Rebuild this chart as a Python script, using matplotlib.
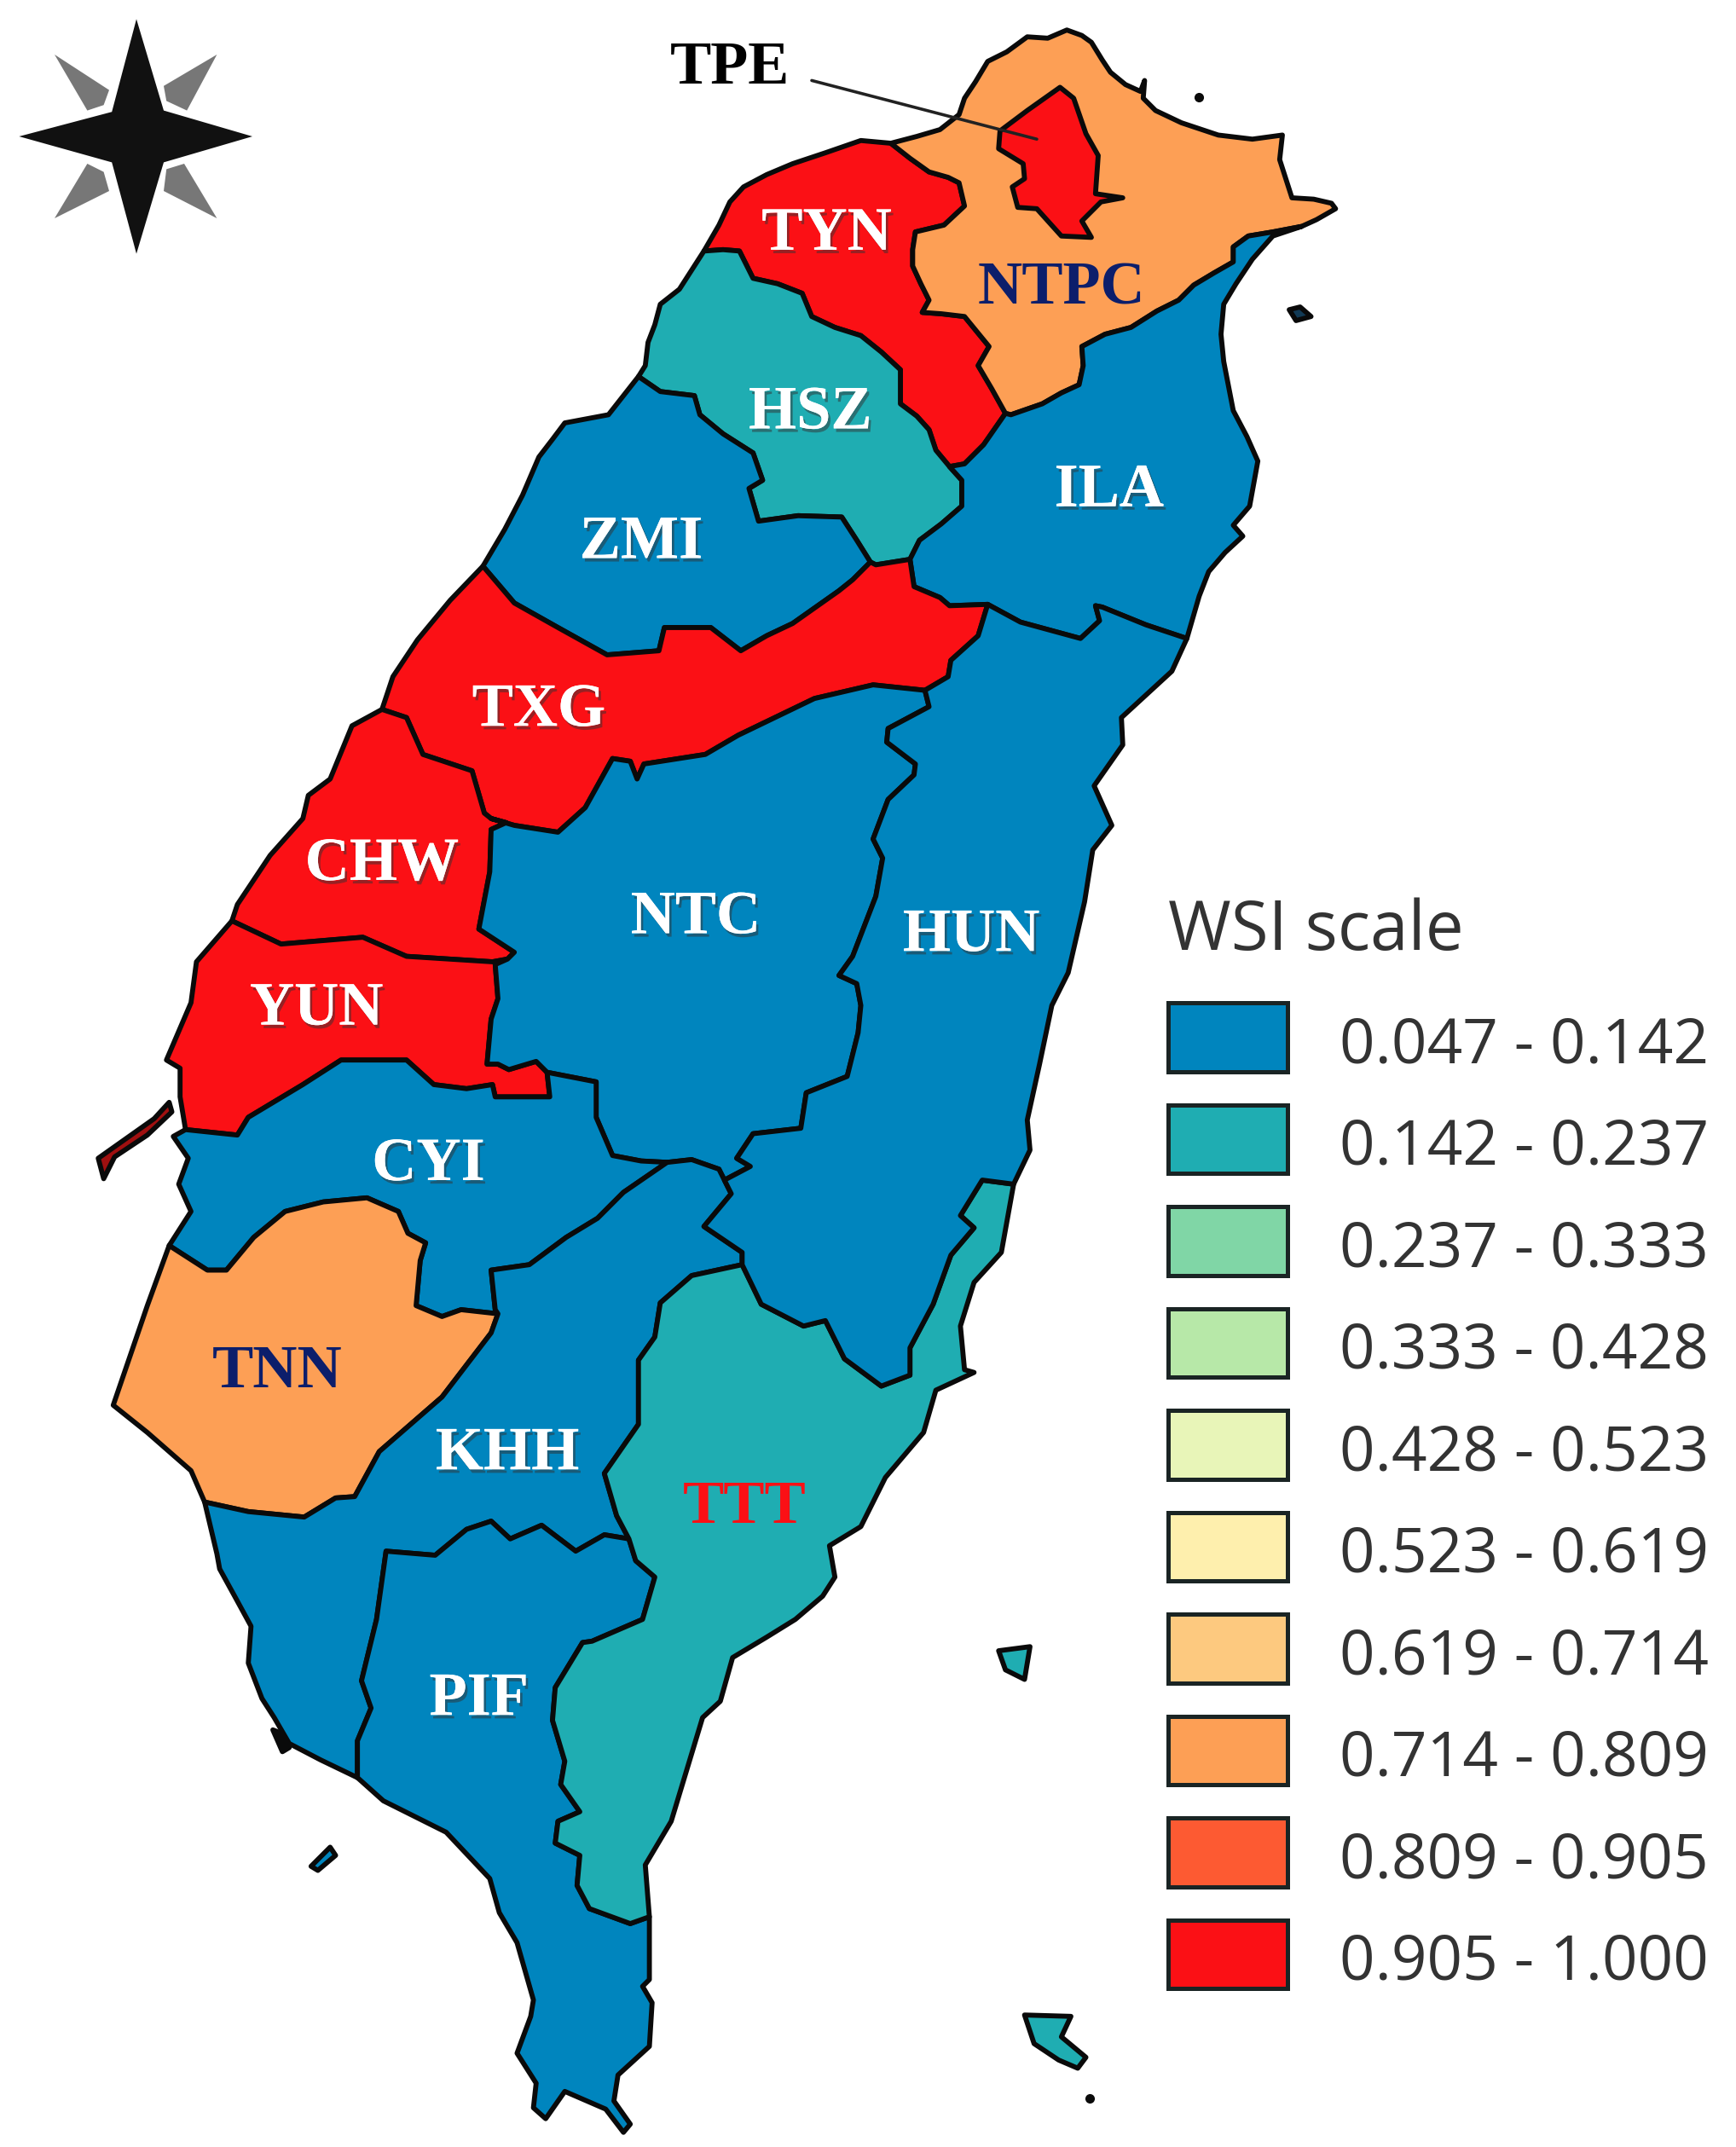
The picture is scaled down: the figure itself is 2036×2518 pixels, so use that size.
import matplotlib
matplotlib.use("Agg")
import matplotlib.pyplot as plt
import matplotlib.patheffects as pe
from matplotlib.patches import Polygon, Rectangle

# legend
legend_title = "WSI scale"
bin_labels = ["0.047 - 0.142", "0.142 - 0.237", "0.237 - 0.333", "0.333 - 0.428",
              "0.428 - 0.523", "0.523 - 0.619", "0.619 - 0.714", "0.714 - 0.809",
              "0.809 - 0.905", "0.905 - 1.000"]
bin_colors = ["#0085BE", "#1FADB2", "#80D6A6", "#B7E8A8", "#E8F5B8",
              "#FEEFAD", "#FDC97F", "#FD9F55", "#FD5A32", "#FB1015"]

# county borders, traced in reference coordinates (1273 x 1574)
tyn_coast = [(516, 184), (527, 165), (535, 148), (545, 137), (562, 128), (581, 120), (605, 112), (631, 103), (653, 105)]
ntpc_coast = [(653, 105), (672, 100), (689, 95), (703, 84), (707, 72), (715, 60), (724, 45), (738, 38), (753, 27),
              (768, 28), (782, 22), (793, 26), (800, 31), (808, 44), (814, 53), (825, 62), (836, 67), (839, 59),
              (838, 72), (847, 81), (866, 90), (893, 99), (918, 102), (940, 99), (938, 117), (947, 145), (963, 146),
              (976, 149), (979, 153), (965, 161), (954, 166)]
ntpc_ila = [(954, 166), (933, 170), (915, 173), (904, 181), (904, 192), (890, 200), (875, 209), (864, 220), (848, 228),
            (829, 240), (810, 245), (793, 254), (794, 268), (791, 282), (778, 288), (764, 296), (741, 304), (737, 303)]
tyn_ntpc = [(653, 105), (667, 116), (681, 126), (695, 130), (703, 134), (707, 151), (692, 165), (671, 170), (669, 183),
            (669, 195), (675, 208), (681, 220), (676, 229), (690, 230), (707, 232), (716, 243), (725, 254), (717, 268),
            (727, 285), (737, 303)]
tyn_ila = [(737, 303), (721, 326), (707, 340), (696, 342)]
tyn_hsz = [(516, 184), (530, 183), (542, 184), (552, 204), (570, 208), (588, 215), (595, 232), (612, 240), (631, 246),
           (646, 258), (660, 271), (660, 296), (672, 305), (681, 315), (686, 330), (696, 342)]
hsz_coast = [(516, 184), (507, 198), (498, 212), (484, 223), (480, 238), (475, 251), (473, 268), (468, 276)]
hsz_zmi = [(468, 276), (484, 287), (509, 290), (513, 304), (530, 318), (552, 332), (559, 352), (549, 358), (556, 382),
           (585, 378), (617, 379), (628, 396), (638, 412)]
hsz_ila = [(696, 342), (705, 352), (705, 371), (690, 384), (674, 396), (667, 410)]
hsz_txg = [(638, 412), (642, 414), (667, 410)]
ila_coast = [(954, 166), (933, 173), (918, 190), (906, 208), (897, 223), (895, 245), (897, 265), (904, 301), (914, 320),
             (922, 338), (916, 371), (904, 385), (911, 393), (898, 405), (886, 419), (879, 437), (870, 468)]
ila_hun = [(870, 468), (840, 458), (808, 445), (803, 444), (806, 455), (792, 468), (770, 462), (748, 456), (724, 443)]
ila_txg = [(667, 410), (670, 430), (689, 438), (696, 444), (724, 443)]
zmi_coast = [(468, 276), (457, 290), (446, 304), (414, 310), (405, 322), (395, 335), (383, 363), (370, 388), (354, 415)]
zmi_txg = [(354, 415), (377, 442), (409, 460), (445, 480), (483, 477), (487, 460), (521, 460), (543, 477), (562, 466),
           (581, 457), (615, 433), (625, 425), (638, 412)]
txg_coast = [(354, 415), (330, 440), (306, 469), (288, 496), (280, 520)]
txg_chw = [(280, 520), (298, 526), (310, 553), (346, 565), (355, 596), (360, 600)]
txg_ntc = [(360, 600), (377, 605), (409, 610), (429, 592), (449, 556), (462, 558), (467, 571), (472, 560), (517, 553),
           (541, 539), (597, 512), (640, 502), (678, 506)]
txg_hun = [(678, 506), (695, 496), (697, 484), (717, 466), (724, 443)]
chw_coast = [(280, 520), (258, 532), (242, 571), (226, 583), (222, 600), (198, 627), (174, 663), (170, 675)]
chw_yun = [(170, 675), (206, 692), (266, 687), (298, 701), (361, 705), (372, 703)]
chw_ntc = [(360, 600), (371, 603), (360, 608), (359, 639), (351, 681), (377, 698), (372, 703)]
yun_coast = [(170, 675), (144, 705), (140, 735), (122, 777), (132, 783), (132, 804), (136, 828)]
yun_ntc = [(372, 703), (363, 707), (365, 732), (360, 747), (357, 780), (365, 780), (373, 784), (393, 778), (401, 786)]
yun_cyi = [(136, 828), (174, 832), (182, 819), (222, 795), (250, 777), (298, 777), (318, 795), (342, 798), (361, 795),
           (363, 804), (403, 804), (401, 786)]
ntc_cyi = [(401, 786), (437, 793), (437, 819), (449, 847), (470, 851), (489, 852)]
ntc_khh = [(489, 852), (507, 850), (527, 857), (531, 865)]
ntc_hun = [(531, 865), (550, 855), (540, 849), (552, 831), (587, 827), (591, 801), (621, 789), (629, 757), (631, 737),
           (628, 721), (615, 715), (625, 701), (642, 657), (647, 629), (640, 615), (651, 586), (670, 568), (671, 560),
           (650, 544), (651, 534), (681, 518), (678, 506)]
cyi_khh = [(489, 852), (457, 874), (438, 893), (415, 907), (388, 927), (360, 931), (363, 960), (365, 963)]
cyi_tnn = [(365, 963), (338, 960), (324, 965), (305, 957), (308, 924), (312, 911), (299, 904), (292, 888), (269, 878),
           (237, 881), (209, 888), (186, 907), (166, 931), (152, 931), (124, 913)]
cyi_coast = [(136, 828), (127, 833), (138, 849), (131, 868), (140, 888), (124, 913)]
tnn_coast = [(124, 913), (108, 957), (83, 1030), (108, 1050), (140, 1078), (150, 1101)]
tnn_khh = [(150, 1101), (182, 1108), (223, 1112), (246, 1098), (260, 1097), (278, 1064), (324, 1024), (360, 977), (365, 963)]
khh_hun = [(531, 865), (536, 875), (516, 899), (544, 918), (544, 927)]
khh_ttt = [(544, 927), (507, 935), (484, 955), (480, 980), (468, 997), (468, 1044), (443, 1080), (452, 1111), (461, 1128)]
khh_pif = [(461, 1128), (443, 1125), (422, 1137), (397, 1118), (374, 1128), (360, 1115), (342, 1121), (319, 1140),
           (283, 1137), (276, 1187), (265, 1232), (272, 1252), (262, 1276), (262, 1303)]
khh_coast = [(150, 1101), (159, 1139), (161, 1150), (172, 1170), (184, 1192), (182, 1219), (192, 1245), (201, 1259),
             (212, 1278), (235, 1290), (262, 1303)]
pif_ttt = [(461, 1128), (466, 1144), (480, 1156), (471, 1187), (434, 1203), (427, 1204), (407, 1237), (405, 1261),
           (414, 1291), (411, 1308), (425, 1328), (409, 1335), (407, 1351), (425, 1360), (423, 1382), (432, 1399),
           (462, 1410), (476, 1405)]
pif_coast = [(262, 1303), (281, 1320), (327, 1343), (359, 1377), (366, 1402), (379, 1424), (391, 1466), (389, 1478),
             (379, 1505), (393, 1527), (391, 1545), (400, 1553), (414, 1533), (444, 1546), (457, 1563), (462, 1557),
             (450, 1540), (453, 1521), (476, 1500), (478, 1468), (471, 1456), (476, 1451), (476, 1405)]
hun_ttt = [(544, 927), (558, 956), (589, 972), (605, 968), (619, 996), (646, 1016), (667, 1008), (667, 988), (684, 956),
           (697, 920), (714, 900), (704, 891), (720, 865), (743, 868)]
hun_coast = [(870, 468), (859, 492), (822, 526), (823, 546), (802, 576), (815, 605), (801, 623), (795, 661), (783, 713),
             (771, 737), (762, 780), (753, 821), (755, 843), (743, 868)]
ttt_coast = [(743, 868), (734, 918), (714, 940), (704, 972), (707, 1004), (714, 1006), (686, 1019), (677, 1050), (649, 1083),
             (631, 1119), (608, 1133), (612, 1156), (603, 1170), (583, 1187), (562, 1200), (537, 1215), (528, 1247),
             (515, 1259), (492, 1335), (473, 1367), (476, 1405)]


def rev(seg):
    return seg[::-1]


# county name, colour bin, outline
counties = [
    ("TYN", 9, tyn_coast + tyn_ntpc + tyn_ila + rev(tyn_hsz)),
    ("NTPC", 7, ntpc_coast + ntpc_ila + rev(tyn_ntpc)),
    ("HSZ", 1, tyn_hsz + hsz_ila + rev(hsz_txg) + rev(hsz_zmi) + rev(hsz_coast)),
    ("ILA", 0, tyn_ila + hsz_ila + ila_txg + rev(ila_hun) + rev(ila_coast) + ntpc_ila),
    ("ZMI", 0, zmi_coast + zmi_txg + rev(hsz_zmi)),
    ("TXG", 9, txg_coast + txg_chw + txg_ntc + txg_hun + rev(ila_txg) + rev(hsz_txg) + rev(zmi_txg)),
    ("CHW", 9, chw_coast + chw_yun + rev(chw_ntc) + rev(txg_chw)),
    ("YUN", 9, yun_coast + yun_cyi + rev(yun_ntc) + rev(chw_yun)),
    ("NTC", 0, chw_ntc + yun_ntc + ntc_cyi + ntc_khh + ntc_hun + rev(txg_ntc)),
    ("CYI", 0, yun_cyi + ntc_cyi + cyi_khh + cyi_tnn + rev(cyi_coast)),
    ("TNN", 7, tnn_coast + tnn_khh + cyi_tnn),
    ("KHH", 0, ntc_khh + khh_hun + khh_ttt + khh_pif + rev(khh_coast) + tnn_khh + rev(cyi_khh)),
    ("PIF", 0, khh_pif + pif_coast + rev(pif_ttt)),
    ("TTT", 1, hun_ttt + ttt_coast + rev(pif_ttt) + rev(khh_ttt)),
    ("HUN", 0, hun_coast + rev(hun_ttt) + rev(khh_hun) + ntc_hun + txg_hun + rev(ila_hun)),
]

tpe_outline = [(777, 64), (787, 72), (796, 98), (805, 114), (803, 142), (823, 145), (807, 148), (793, 162), (800, 174),
               (778, 173), (760, 153), (746, 152), (742, 137), (751, 131), (750, 120), (732, 109), (733, 96), (753, 81)]

# (outline, fill)
islands = [
    ([(124, 808), (113, 820), (72, 849), (76, 864), (84, 848), (108, 832), (126, 815)], "#A01010"),
    ([(732, 1210), (755, 1207), (751, 1231), (737, 1224)], bin_colors[1]),
    ([(751, 1477), (785, 1478), (778, 1493), (796, 1508), (790, 1516), (776, 1510), (758, 1498)], bin_colors[1]),
    ([(242, 1354), (246, 1360), (233, 1371), (228, 1368)], bin_colors[0]),
    ([(945, 227), (953, 225), (961, 232), (950, 235)], "#123A55"),
    ([(200, 1268), (210, 1272), (212, 1281), (207, 1284)], "#0A0A0A"),
]
specks = [(879, 71), (799, 1538)]

# label text, centre x, baseline y, colour
labels = [
    ("TYN", 606, 183, "white"), ("NTPC", 778, 223, "#0C1E6B"), ("HSZ", 594, 314, "white"),
    ("ILA", 813, 371, "white"), ("ZMI", 470, 409, "white"), ("TXG", 395, 532, "white"),
    ("CHW", 280, 645, "white"), ("YUN", 232, 751, "white"), ("NTC", 510, 684, "white"),
    ("HUN", 712, 697, "white"), ("CYI", 314, 865, "white"), ("TNN", 203, 1017, "#0C1E6B"),
    ("KHH", 372, 1077, "white"), ("TTT", 546, 1116, "#FB1015"), ("PIF", 351, 1257, "white"),
    ("TPE", 535, 61, "black"),
]
tpe_leader_x = [595, 760]
tpe_leader_y = [59, 102]

star_black = [(100, 14), (120, 81), (185, 100), (120, 119), (100, 186), (82, 119), (14, 100), (82, 82)]
star_gray = [
    [(40, 40), (80, 66), (76, 77), (64, 81)],
    [(159, 40), (120, 63), (122, 74), (137, 81)],
    [(40, 160), (80, 140), (76, 126), (64, 120)],
    [(159, 160), (120, 140), (122, 124), (135, 120)],
]

W, H = 1272.5, 1573.75
fig = plt.figure(figsize=(20.36, 25.18), dpi=100)
ax = fig.add_axes([0, 0, 1, 1])
ax.set_xlim(0, W)
ax.set_ylim(H, 0)
ax.axis("off")

edge = dict(edgecolor="#0A0A0A", linewidth=4.2, joinstyle="round")

for outline, fill in islands:
    ax.add_patch(Polygon(outline, closed=True, facecolor=fill, **edge))
for name, c, outline in counties:
    ax.add_patch(Polygon(outline, closed=True, facecolor=bin_colors[c], **edge))
ax.add_patch(Polygon(tpe_outline, closed=True, facecolor=bin_colors[9], **edge))
ax.plot(*zip(*specks), "o", color="#0A0A0A", ms=7, ls="none")

# star
ax.add_patch(Polygon(star_black, closed=True, facecolor="#111111", edgecolor="none"))
for g in star_gray:
    ax.add_patch(Polygon(g, closed=True, facecolor="#777777", edgecolor="none"))

# labels
for txt, x, y, col in labels:
    t = ax.text(x, y, txt, color=col, ha="center", va="baseline", fontsize=52,
                family="Liberation Serif", fontweight="bold")
    if col == "white":
        t.set_path_effects([pe.withSimplePatchShadow(offset=(2, -3), shadow_rgbFace="#333333", alpha=0.5), pe.Normal()])
ax.plot(tpe_leader_x, tpe_leader_y, color="#222222", lw=2.6, solid_capstyle="round")

# legend
ax.text(856, 683, legend_title, color="#333333", ha="left", va="center", fontsize=57.5, family="Open Sans")
for i, (lab, col) in enumerate(zip(bin_labels, bin_colors)):
    y0 = 735 + i * 74.7
    ax.add_patch(Rectangle((856, y0), 88, 50.5, facecolor=col, edgecolor="#1a2424", linewidth=3.6))
    ax.text(982, y0 + 32, lab, color="#333333", ha="left", va="center", fontsize=52.5, family="Open Sans")

fig.savefig("out.png", dpi=100, facecolor="white")
